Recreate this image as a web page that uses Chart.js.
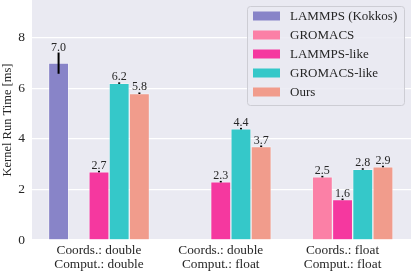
<!DOCTYPE html>
<html><head><meta charset="utf-8">
<script src="https://cdn.jsdelivr.net/npm/chart.js@4"></script>
<style>html,body{margin:0;padding:0;background:#fff}#wrap{width:411px;height:272px}</style>
</head><body><div id="wrap"><canvas id="c" width="411" height="272"></canvas></div>
<script>
const categories = [["Coords.: double","Comput.: double"],["Coords.: double","Comput.: float"],["Coords.: float","Comput.: float"]];
const seriesNames = ["LAMMPS (Kokkos)","GROMACS","LAMMPS-like","GROMACS-like","Ours"];
const kokkos      = [7.0, null, null];
const gromacs     = [0, 0, 2.5];
const lammpsLike  = [2.7, 2.3, 1.6];
const gromacsLike = [6.2, 4.4, 2.8];
const ours        = [5.8, 3.7, 2.9];
const kokkosErr      = [0.42, null, null];
const gromacsErr     = [0, 0, 0.02];
const lammpsLikeErr  = [0.02, 0.02, 0.02];
const gromacsLikeErr = [0.02, 0.02, 0.02];
const oursErr        = [0.02, 0.02, 0.02];
const yTicks = [0, 2, 4, 6, 8];
const colors = ["#8884c8","#fb80a6","#f5389f","#35c8c9","#f19c8c"];

const values = [kokkos, gromacs, lammpsLike, gromacsLike, ours];
const errs = [kokkosErr, gromacsErr, lammpsLikeErr, gromacsLikeErr, oursErr];
const FONT = "'Liberation Serif', 'DejaVu Serif', serif";
const TXT = "#262626";

const datasets = seriesNames.map((name, i) => ({
  label: name,
  data: values[i].map((v, j) => ({x: j, y: v})),
  backgroundColor: colors[i],
  borderColor: "rgba(255,255,255,0.35)",
  borderWidth: 1,
  barThickness: 20.2,
  errors: errs[i]
}));

const bgPlugin = {
  id: 'bg',
  beforeDraw(chart) {
    const {ctx, chartArea: a} = chart;
    ctx.save(); ctx.fillStyle = "#eaeaf2";
    ctx.fillRect(a.left, a.top, a.right - a.left, a.bottom - a.top);
    ctx.restore();
  }
};

const errPlugin = {
  id: 'err',
  afterDatasetsDraw(chart) {
    const {ctx} = chart; const ys = chart.scales.y;
    ctx.save();
    chart.data.datasets.forEach((ds, di) => {
      const meta = chart.getDatasetMeta(di);
      meta.data.forEach((el, j) => {
        const v = ds.data[j].y;
        if (v === null || v === 0) return;
        const e = ds.errors[j] || 0;
        const top = ys.getPixelForValue(v + e), bot = ys.getPixelForValue(v - e);
        ctx.strokeStyle = "#000"; ctx.lineWidth = 2;
        ctx.beginPath(); ctx.moveTo(el.x, Math.min(top, bot - 1.5)); ctx.lineTo(el.x, bot); ctx.stroke();
        ctx.fillStyle = TXT; ctx.font = "12px " + FONT;
        ctx.textAlign = "center"; ctx.textBaseline = "alphabetic";
        ctx.fillText(v.toFixed(1), el.x, Math.min(top, bot - 1.5) - 2);
      });
    });
    ctx.restore();
  }
};

const legendPlugin = {
  id: 'customLegend',
  afterDraw(chart) {
    const {ctx} = chart;
    const x0 = 247, y0 = 6, w = 157, h = 99, r = 3;
    ctx.save();
    ctx.fillStyle = "rgba(234,234,242,0.85)";
    ctx.strokeStyle = "#cdcdd4"; ctx.lineWidth = 1;
    ctx.beginPath(); ctx.roundRect(x0 + 0.5, y0 + 0.5, w, h, r); ctx.fill(); ctx.stroke();
    chart.data.datasets.forEach((ds, i) => {
      const cy = 16 + i * 19;
      ctx.fillStyle = ds.backgroundColor;
      ctx.fillRect(253, cy - 4.5, 27, 9);
      ctx.fillStyle = TXT; ctx.font = "13px " + FONT;
      ctx.textAlign = "left"; ctx.textBaseline = "middle";
      ctx.fillText(ds.label, 290, cy + 0.5);
    });
    ctx.restore();
  }
};

new Chart(document.getElementById('c'), {
  type: 'bar',
  data: { datasets },
  plugins: [bgPlugin, errPlugin, legendPlugin],
  options: {
    responsive: false, animation: false, devicePixelRatio: 1,
    layout: { padding: 0 },
    plugins: { legend: { display: false }, tooltip: { enabled: false } },
    scales: {
      x: {
        type: 'linear', min: -0.55, max: 2.562, offset: false,
        grid: { display: false, drawTicks: false }, border: { display: false },
        afterBuildTicks: s => { s.ticks = categories.map((c, i) => ({value: i})); },
        afterFit: s => { s.height = 32; s.paddingLeft = 0; s.paddingRight = 0; },
        ticks: { color: TXT, font: { family: FONT, size: 13.3, lineHeight: 1.07 }, padding: 3, maxRotation: 0, minRotation: 0, autoSkip: false,
          callback: v => categories[v] }
      },
      y: {
        min: 0, max: 9.5,
        afterBuildTicks: s => { s.ticks = yTicks.map(v => ({value: v})); },
        afterFit: s => { s.width = 32; s.paddingTop = 0; s.paddingBottom = 0; },
        grid: { color: "#ffffff", lineWidth: 1.3, drawTicks: false }, border: { display: false },
        ticks: { color: TXT, font: { family: FONT, size: 13.5 }, padding: 7 },
        title: { display: true, text: "Kernel Run Time [ms]", color: TXT, font: { family: FONT, size: 12.5 }, padding: 0 }
      }
    }
  }
});
</script></body></html>
